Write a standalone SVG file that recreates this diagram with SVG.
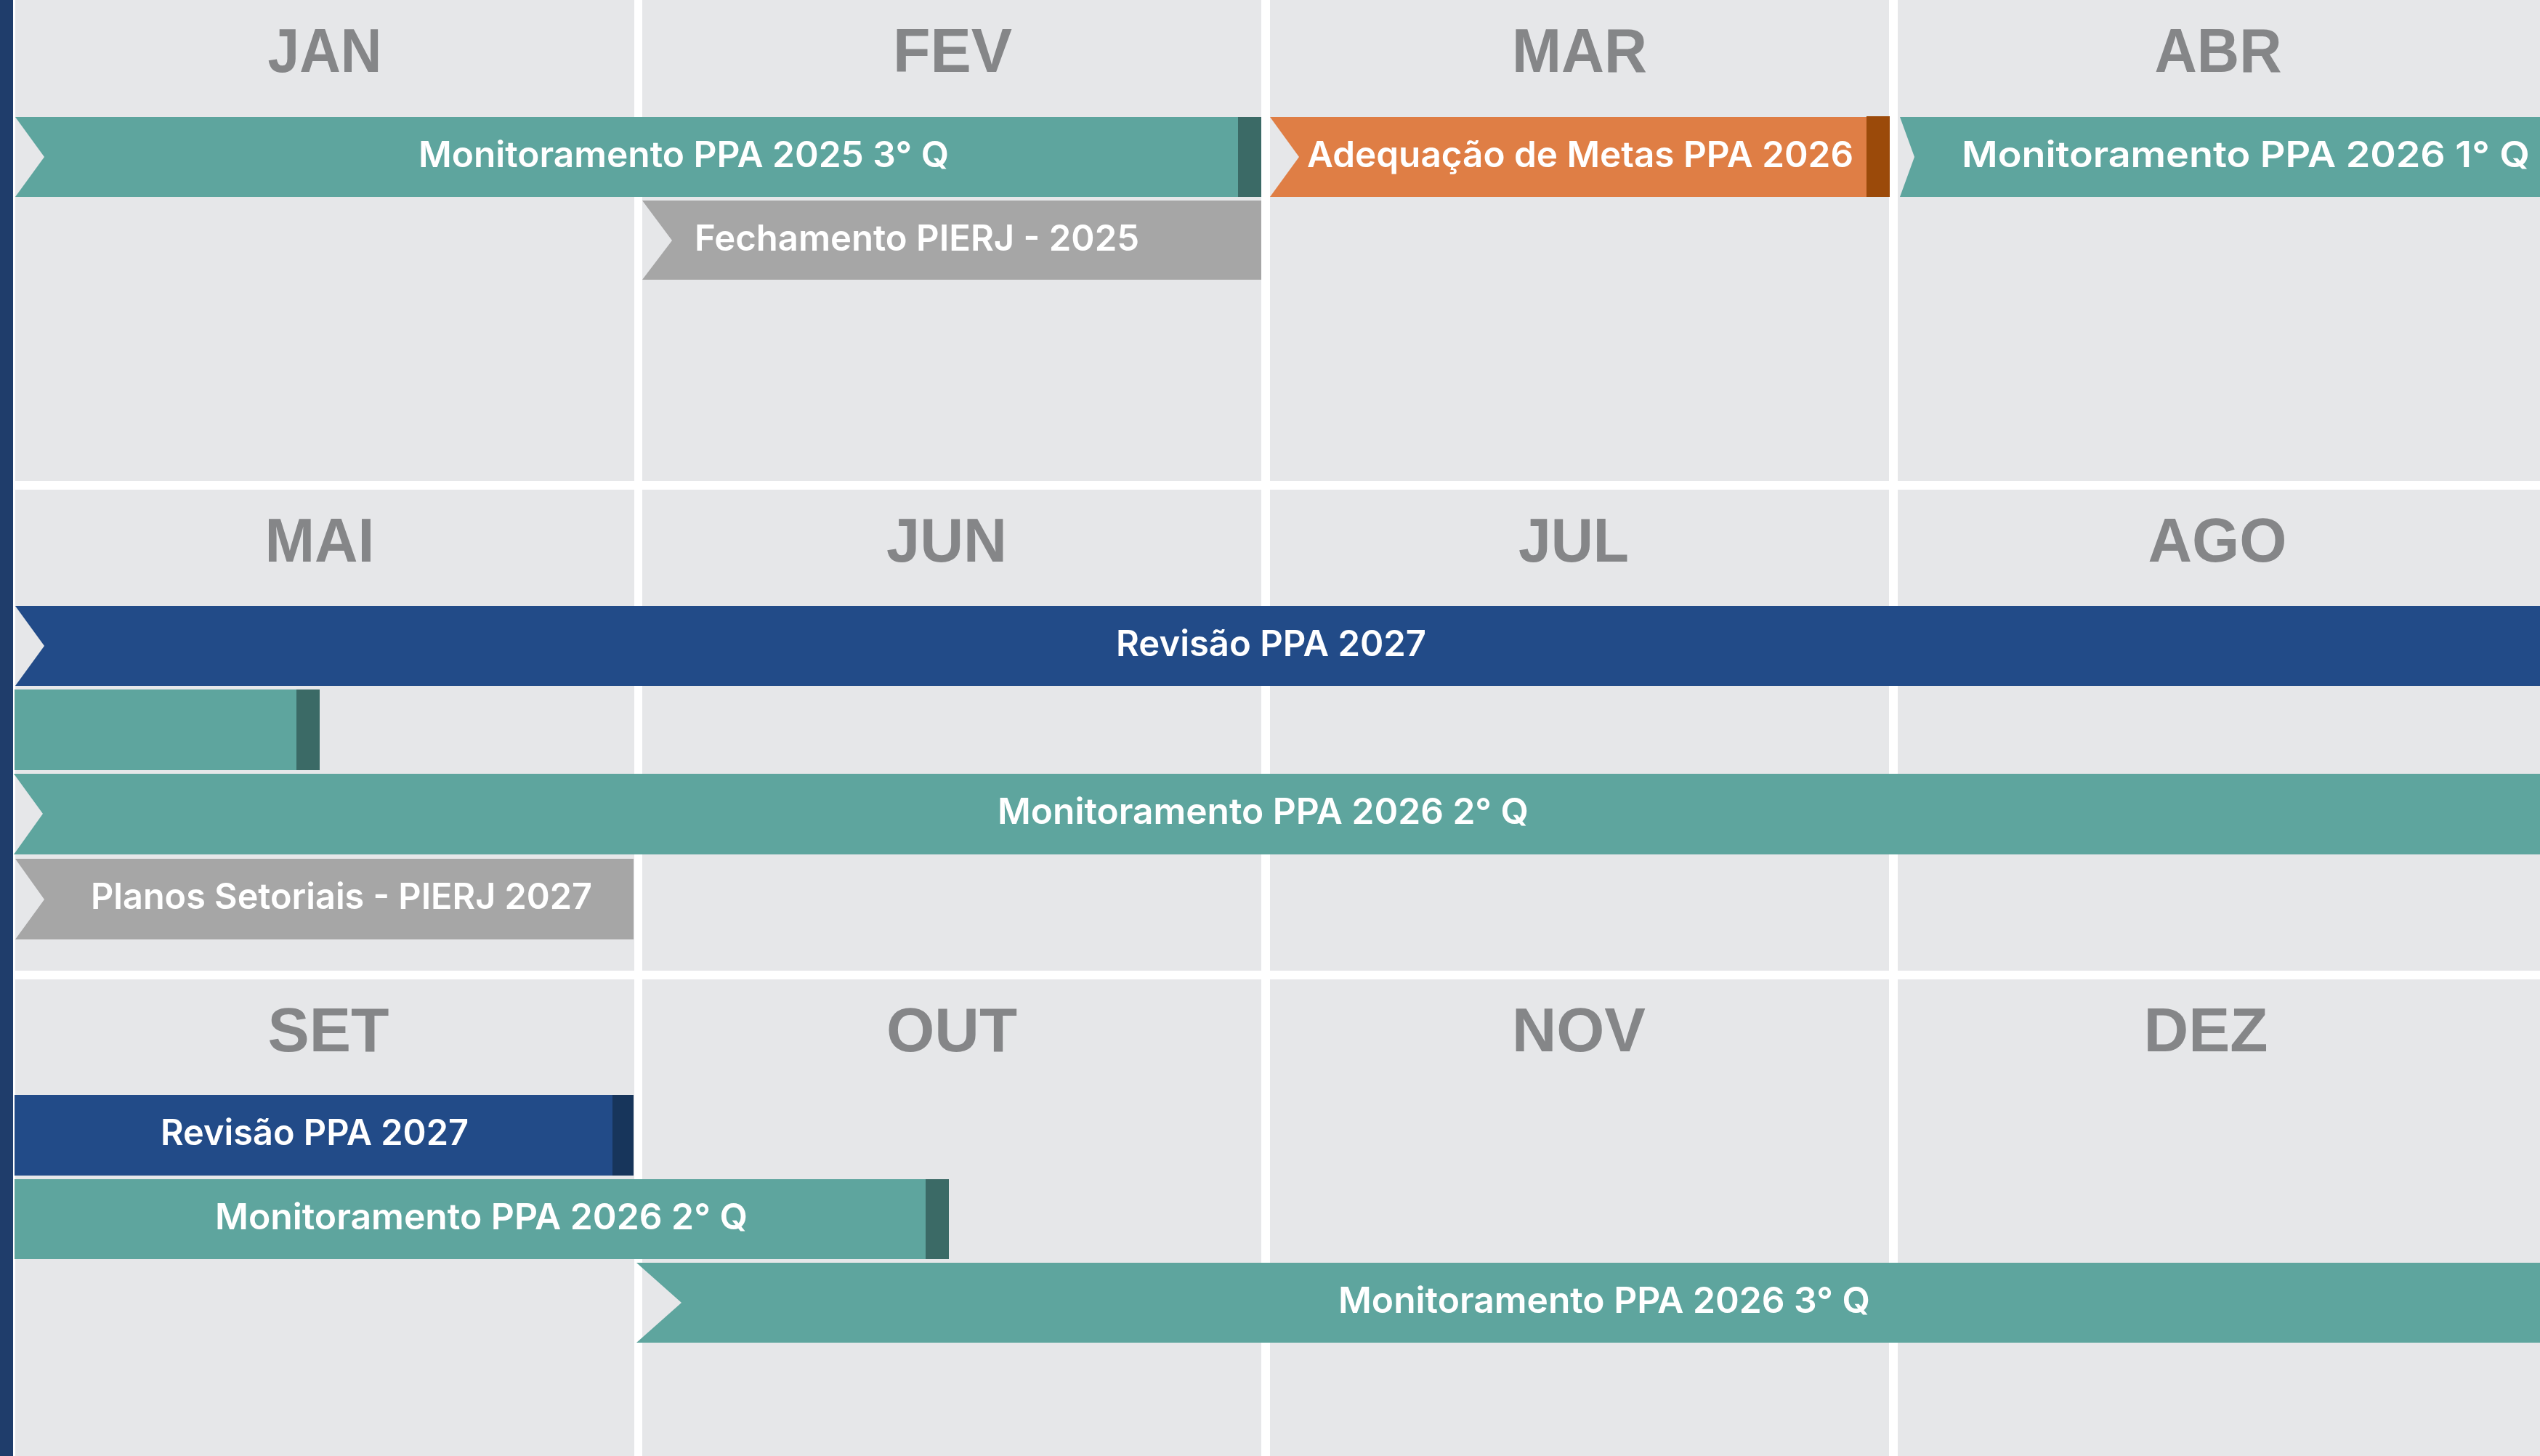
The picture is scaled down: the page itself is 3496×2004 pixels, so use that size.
<svg xmlns="http://www.w3.org/2000/svg" width="3496" height="2004" viewBox="0 0 3496 2004">
<style>
.cell{fill:#e6e7e9}
.mon{font-family:"Liberation Sans",Arial,sans-serif;font-weight:bold;font-size:86px;fill:#858688;text-anchor:middle}
.lbl{font-family:Inter,"Open Sans",sans-serif;font-weight:600;font-size:49px;fill:#ffffff}
.teal{fill:#5ea59e}
.tealD{fill:#3b6a66}
.org{fill:#df7e45}
.orgD{fill:#9b4a0a}
.navy{fill:#224b88}
.navyD{fill:#17355b}
.gray{fill:#a6a6a6}
</style>
<rect x="0" y="0" width="3496" height="2004" fill="#ffffff"/>
<rect x="0" y="0" width="18" height="2004" fill="#1f3d6b"/>
<g id="grid">
<rect class="cell" x="21" y="0" width="852" height="662"/>
<rect class="cell" x="884" y="0" width="852" height="662"/>
<rect class="cell" x="1748" y="0" width="852" height="662"/>
<rect class="cell" x="2612" y="0" width="884" height="662"/>
<rect class="cell" x="21" y="674" width="852" height="662"/>
<rect class="cell" x="884" y="674" width="852" height="662"/>
<rect class="cell" x="1748" y="674" width="852" height="662"/>
<rect class="cell" x="2612" y="674" width="884" height="662"/>
<rect class="cell" x="21" y="1348" width="852" height="656"/>
<rect class="cell" x="884" y="1348" width="852" height="656"/>
<rect class="cell" x="1748" y="1348" width="852" height="656"/>
<rect class="cell" x="2612" y="1348" width="884" height="656"/>
</g>
<g id="months">
<text class="mon" x="447" y="99" textLength="157" lengthAdjust="spacingAndGlyphs">JAN</text>
<text class="mon" x="1311" y="99" textLength="164" lengthAdjust="spacingAndGlyphs">FEV</text>
<text class="mon" x="2174" y="99" textLength="186" lengthAdjust="spacingAndGlyphs">MAR</text>
<text class="mon" x="3053" y="99" textLength="175" lengthAdjust="spacingAndGlyphs">ABR</text>
<text class="mon" x="440" y="773" textLength="151" lengthAdjust="spacingAndGlyphs">MAI</text>
<text class="mon" x="1303" y="773" textLength="166" lengthAdjust="spacingAndGlyphs">JUN</text>
<text class="mon" x="2166" y="773" textLength="152" lengthAdjust="spacingAndGlyphs">JUL</text>
<text class="mon" x="3052" y="773" textLength="191" lengthAdjust="spacingAndGlyphs">AGO</text>
<text class="mon" x="452" y="1447" textLength="167" lengthAdjust="spacingAndGlyphs">SET</text>
<text class="mon" x="1310" y="1447" textLength="180" lengthAdjust="spacingAndGlyphs">OUT</text>
<text class="mon" x="2173" y="1447" textLength="184" lengthAdjust="spacingAndGlyphs">NOV</text>
<text class="mon" x="3036" y="1447" textLength="171" lengthAdjust="spacingAndGlyphs">DEZ</text>
</g>
<g id="bar-mon-2025-3q">
<polygon class="teal" points="21,161 1736,161 1736,271 21,271 61,216"/>
<rect class="tealD" x="1704" y="161" width="32" height="110"/>
<text class="lbl" x="576" y="230" textLength="730" lengthAdjust="spacingAndGlyphs">Monitoramento PPA 2025 3° Q</text>
</g>
<g id="bar-adequacao-2026">
<polygon class="org" points="1748,161 2601,161 2601,271 1748,271 1788,216"/>
<rect class="orgD" x="2569" y="160" width="32" height="111"/>
<text class="lbl" x="1799" y="230" textLength="752" lengthAdjust="spacingAndGlyphs">Adequação de Metas PPA 2026</text>
</g>
<g id="bar-mon-2026-1q">
<polygon class="teal" points="2615,161 3496,161 3496,271 2615,271 2635,216"/>
<text class="lbl" x="2700" y="230" textLength="782" lengthAdjust="spacingAndGlyphs">Monitoramento PPA 2026 1° Q</text>
</g>
<g id="bar-fechamento-2025">
<polygon class="gray" points="884,276 1736,276 1736,385 884,385 925,331"/>
<text class="lbl" x="956" y="345" textLength="612" lengthAdjust="spacingAndGlyphs">Fechamento PIERJ - 2025</text>
</g>
<g id="bar-revisao-2027-a">
<polygon class="navy" points="21,834 3496,834 3496,944 21,944 61,889"/>
<text class="lbl" x="1536" y="903" textLength="427" lengthAdjust="spacingAndGlyphs">Revisão PPA 2027</text>
</g>
<g id="bar-mon-short">
<rect class="teal" x="20" y="949" width="420" height="111"/>
<rect class="tealD" x="408" y="949" width="32" height="111"/>
</g>
<g id="bar-mon-2026-2q-a">
<polygon class="teal" points="19,1065 3496,1065 3496,1176 19,1176 59,1120"/>
<text class="lbl" x="1373" y="1134" textLength="731" lengthAdjust="spacingAndGlyphs">Monitoramento PPA 2026 2° Q</text>
</g>
<g id="bar-planos-2027">
<polygon class="gray" points="21,1182 872,1182 872,1293 21,1293 61,1238"/>
<text class="lbl" x="125" y="1251" textLength="690" lengthAdjust="spacingAndGlyphs">Planos Setoriais - PIERJ 2027</text>
</g>
<g id="bar-revisao-2027-b">
<rect class="navy" x="20" y="1507" width="852" height="111"/>
<rect class="navyD" x="843" y="1507" width="29" height="111"/>
<text class="lbl" x="221" y="1576" textLength="424" lengthAdjust="spacingAndGlyphs">Revisão PPA 2027</text>
</g>
<g id="bar-mon-2026-2q-b">
<rect class="teal" x="20" y="1623" width="1286" height="110"/>
<rect class="tealD" x="1274" y="1623" width="32" height="110"/>
<text class="lbl" x="296" y="1692" textLength="733" lengthAdjust="spacingAndGlyphs">Monitoramento PPA 2026 2° Q</text>
</g>
<g id="bar-mon-2026-3q">
<polygon class="teal" points="876,1738 3496,1738 3496,1848 876,1848 938,1793"/>
<text class="lbl" x="1842" y="1807" textLength="732" lengthAdjust="spacingAndGlyphs">Monitoramento PPA 2026 3° Q</text>
</g>
</svg>
